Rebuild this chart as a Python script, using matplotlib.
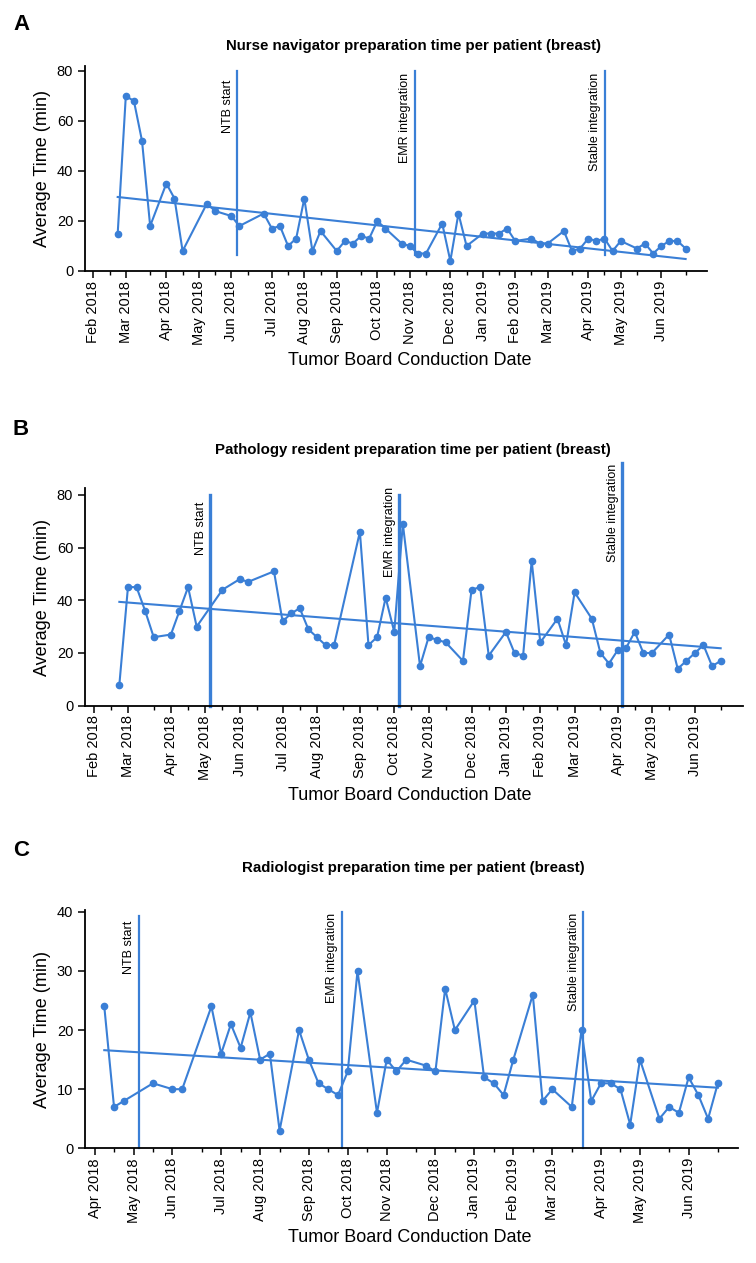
import matplotlib
matplotlib.use('Agg')
import matplotlib.pyplot as plt
import numpy as np

plt.rcParams['font.family'] = ['Liberation Sans', 'DejaVu Sans']

# x = week number of the tumor board (week 0 = first board of the series)
weeks_a = [0, 1, 2, 3, 4, 6, 7, 8, 11, 12, 14, 15, 18, 19, 20, 21, 22, 23, 24, 25,
           27, 28, 29, 30, 31, 32, 33, 35, 36, 37, 38, 40, 41, 42, 43, 45, 46, 47, 48, 49,
           51, 52, 53, 55, 56, 57, 58, 59, 60, 61, 62, 64, 65, 66, 67, 68, 69, 70]
time_a = [15, 70, 68, 52, 18, 35, 29, 8, 27, 24, 22, 18, 23, 17, 18, 10, 13, 29, 8, 16,
          8, 12, 11, 14, 13, 20, 17, 11, 10, 7, 7, 19, 4, 23, 10, 15, 15, 15, 17, 12,
          13, 11, 11, 16, 8, 9, 13, 12, 13, 8, 12, 9, 11, 7, 10, 12, 12, 9]
trend_a = [29.6, 4.8]

weeks_b = [0, 1, 2, 3, 4, 6, 7, 8, 9, 12, 14, 15, 18, 19, 20, 21, 22, 23, 24, 25,
           28, 29, 30, 31, 32, 33, 35, 36, 37, 38, 40, 41, 42, 43, 45, 46, 47, 48, 49,
           51, 52, 53, 55, 56, 57, 58, 59, 60, 61, 62, 64, 65, 66, 67, 68, 69, 70]
time_b = [8, 45, 45, 36, 26, 27, 36, 45, 30, 44, 48, 47, 51, 32, 35, 37, 29, 26, 23, 23,
          66, 23, 26, 41, 28, 69, 15, 26, 25, 24, 17, 44, 45, 19, 28, 20, 19, 55, 24,
          33, 23, 43, 33, 20, 16, 21, 22, 28, 20, 20, 27, 14, 17, 20, 23, 15, 17]
trend_b = [39.4, 21.8]

weeks_c = [0, 1, 2, 5, 7, 8, 11, 12, 13, 14, 15, 16, 17, 18, 20, 21, 22, 23, 24, 25, 26,
           28, 29, 30, 31, 33, 34, 35, 36, 38, 39, 40, 41, 42, 44, 45, 46,
           48, 49, 50, 51, 52, 53, 54, 55, 57, 58, 59, 60, 61, 62, 63]
time_c = [24, 7, 8, 11, 10, 10, 24, 16, 21, 17, 23, 15, 16, 3, 20, 15, 11, 10, 9, 13, 30,
          6, 15, 13, 15, 14, 13, 27, 20, 25, 12, 11, 9, 15, 26, 8, 10,
          7, 20, 8, 11, 11, 10, 4, 15, 5, 7, 6, 12, 9, 5, 11]
trend_c = [16.6, 10.25]

months_ab = ['Feb 2018', 'Mar 2018', 'Apr 2018', 'May 2018', 'Jun 2018', 'Jul 2018',
             'Aug 2018', 'Sep 2018', 'Oct 2018', 'Nov 2018', 'Dec 2018', 'Jan 2019',
             'Feb 2019', 'Mar 2019', 'Apr 2019', 'May 2019', 'Jun 2019']
month_wk_a = [-3, 1, 6, 10, 14, 19, 23, 27, 32, 36, 41, 45, 49, 53, 58, 62, 67]
month_wk_b = [-3, 1, 6, 10, 14, 19, 23, 28, 32, 36, 41, 45, 49, 53, 58, 62, 67]
months_c = months_ab[2:]
month_wk_c = [-1, 3, 7, 12, 16, 21, 25, 29, 34, 38, 42, 46, 51, 55, 60]

events = ['NTB start', 'EMR integration', 'Stable integration']
event_wk_a = [14.75, 36.6, 60.06]
event_wk_b = [10.56, 32.6, 58.55]
event_wk_c = [3.53, 24.37, 49.2]

BLUE = '#3a7fd6'
W, H = 756, 1263

fig = plt.figure(figsize=(W / 100, H / 100), dpi=100)


def px_rect(left, right, top, bottom):
    return [left / W, 1 - bottom / H, (right - left) / W, (bottom - top) / H]


def panel(rect, weeks, vals, trend, mwk, mlab, ev_wk, ev_lo, ev_hi, txt_top,
          ev_lw, xlim, ylim, yticks):
    ax = fig.add_axes(rect)
    ax.plot(weeks, vals, color=BLUE, lw=1.5, marker='o', ms=4.5, zorder=3)
    ax.plot([weeks[0], weeks[-1]], trend, color=BLUE, lw=1.5, zorder=3)
    for x, hi, tt, name in zip(ev_wk, ev_hi, txt_top, events):
        ax.plot([x, x], [ev_lo, hi], color=BLUE, lw=ev_lw, clip_on=False, zorder=2)
        ax.annotate(name, xy=(x, tt), xytext=(-2.5, 0), textcoords='offset points',
                    rotation=90, ha='right', va='top', fontsize=9,
                    annotation_clip=False)
    ax.set_xlim(xlim)
    ax.set_ylim(ylim)
    ax.set_yticks(yticks)
    ax.set_xticks(mwk)
    ax.set_xticklabels(mlab, rotation=90, fontsize=10.5)
    mids = [(a + b) / 2 for a, b in zip(mwk[:-1], mwk[1:])]
    mids = [round(m) for m in mids] + [mwk[-1] + 3]
    ax.set_xticks(mids, minor=True)
    ax.tick_params(axis='y', labelsize=10.5, length=5, width=1.1)
    ax.tick_params(axis='x', which='major', length=5, width=1.1, pad=2)
    ax.tick_params(axis='x', which='minor', length=3, width=1.0)
    for s in ['top', 'right']:
        ax.spines[s].set_visible(False)
    for s in ['left', 'bottom']:
        ax.spines[s].set_linewidth(1.3)
    return ax


panel(px_rect(85, 706.7, 66, 271), weeks_a, time_a, trend_a, month_wk_a, months_ab,
      event_wk_a, 6.4, [80, 80, 80], [76.4, 79.3, 79.3], 1.6,
      (-4.03, 72.6), (0, 82), [0, 20, 40, 60, 80])
panel(px_rect(85, 743, 488.3, 705.7), weeks_b, time_b, trend_b, month_wk_b, months_ab,
      event_wk_b, 0, [80, 80, 92], [77.4, 83.1, 92], 2.4,
      (-4.0, 72.6), (0, 82.5), [0, 20, 40, 60, 80])
panel(px_rect(85, 738.3, 909.5, 1148.3), weeks_c, time_c, trend_c, month_wk_c, months_c,
      event_wk_c, 0, [39.3, 40, 40], [38.6, 39.8, 39.8], 1.6,
      (-1.98, 65.1), (0, 40.4), [0, 10, 20, 30, 40])

titles = ['Nurse navigator preparation time per patient (breast)',
          'Pathology resident preparation time per patient (breast)',
          'Radiologist preparation time per patient (breast)']
title_y = [46, 450, 868]
letter_y = [24, 430, 850]
ylab_y = [168.5, 597, 1029]
xlab = [(410, 360), (410, 795), (410, 1237)]

for i, letter in enumerate('ABC'):
    fig.text(21 / W, 1 - letter_y[i] / H, letter, fontsize=16, fontweight='bold',
             ha='center', va='center')
    fig.text(413 / W, 1 - title_y[i] / H, titles[i], fontsize=10.8, fontweight='bold',
             ha='center', va='center')
    fig.text(43 / W, 1 - ylab_y[i] / H, 'Average Time (min)', fontsize=13,
             rotation=90, ha='center', va='center')
    fig.text(xlab[i][0] / W, 1 - xlab[i][1] / H, 'Tumor Board Conduction Date',
             fontsize=13, ha='center', va='center')

fig.savefig('out.png', dpi=100)
